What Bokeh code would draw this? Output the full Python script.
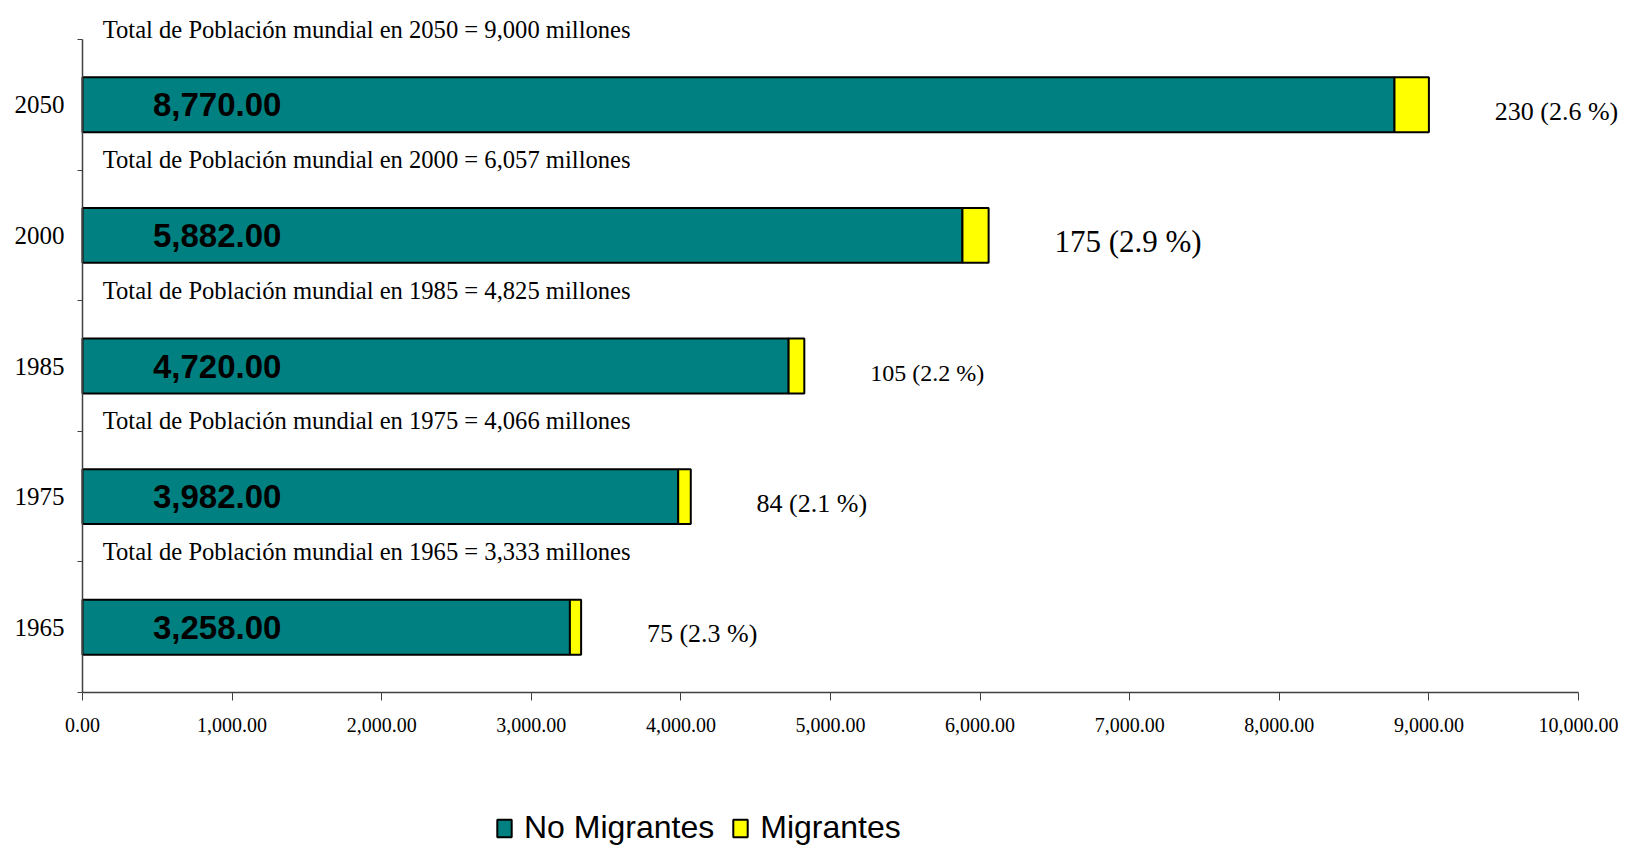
from bokeh.plotting import figure
from bokeh.models import (Range1d, FixedTicker, NumeralTickFormatter, ColumnDataSource,
                          Legend, LegendItem, LinearAxis)
from bokeh.core.properties import value
from bokeh.embed import file_html
from bokeh.resources import INLINE

# ---- data ----
years = ["1965", "1975", "1985", "2000", "2050"]
no_migrantes = [3258, 3982, 4720, 5882, 8770]
migrantes = [75, 84, 105, 175, 230]
x_ticks = [0, 1000, 2000, 3000, 4000, 5000, 6000, 7000, 8000, 9000, 10000]

# ---- styles / layout ----
right_label_sizes = ["26px", "26px", "24px", "31px", "26px"]
W, H = 1645, 846
X_MAX, Y_MAX = 10000, len(years)
PLOT_L, PLOT_R, PLOT_T, PLOT_B = 82, 1578, 39, 692   # pixel box of the axes

totals = [a + b for a, b in zip(no_migrantes, migrantes)]
pos = [i + 0.5 for i in range(len(years))]
pct_labels = [f"{m} ({m / t * 100:.1f} %)" for m, t in zip(migrantes, totals)]
titles = [f"Total de Población mundial en {y} = {t:,} millones" for y, t in zip(years, totals)]
bar_labels = [f"{v:,.2f}" for v in no_migrantes]

xs = (PLOT_R - PLOT_L) / X_MAX
ys = (PLOT_B - PLOT_T) / Y_MAX
x_range = Range1d(-PLOT_L / xs, X_MAX + (W - PLOT_R) / xs)
y_range = Range1d(-(H - PLOT_B) / ys, Y_MAX + PLOT_T / ys)

src = ColumnDataSource(dict(
    y=pos, nm=no_migrantes, tot=totals, mig=migrantes,
    pct=pct_labels, title=titles, blab=bar_labels,
    ty=[p + 0.58 for p in pos], tx=[135] * len(pos),
    ry=[p - 0.05 for p in pos], rx=[t + 440 for t in totals],
    bx=[900] * len(pos), rsize=right_label_sizes,
))

p = figure(width=W, height=H, x_range=x_range, y_range=y_range,
           x_axis_location=None, y_axis_location=None,
           output_backend="svg", toolbar_location=None, min_border=0)
p.outline_line_color = None
p.xgrid.visible = False
p.ygrid.visible = False
p.background_fill_color = "white"

r1 = p.hbar(y="y", left=0, right="nm", height=0.42, fill_color="#008080",
            line_color="black", line_width=2, source=src)
r2 = p.hbar(y="y", left="nm", right="tot", height=0.42, fill_color="#FFFF00",
            line_color="black", line_width=2, source=src)

p.text(x="bx", y="y", text="blab", source=src, text_align="center", text_baseline="middle",
       text_font=value("Liberation Sans"), text_font_style="bold",
       text_font_size="33px", text_color="black")

p.text(x="rx", y="ry", text="pct", source=src, text_align="left", text_baseline="middle",
       text_font=value("Liberation Serif"), text_font_size="rsize", text_color="black")

p.text(x="tx", y="ty", text="title", source=src, text_align="left", text_baseline="middle",
       text_font=value("Liberation Serif"), text_font_size="24.6px", text_color="black")

# x axis
xa = LinearAxis(fixed_location=0, bounds=(0, X_MAX))
xa.ticker = FixedTicker(ticks=x_ticks)
xa.formatter = NumeralTickFormatter(format="0,0.00")
xa.major_label_text_font = "Liberation Serif"
xa.major_label_text_font_size = "20px"
xa.major_label_text_color = "black"
xa.major_tick_out = 8
xa.major_tick_in = 0
xa.minor_tick_line_color = None
xa.axis_line_color = "#404040"
xa.axis_line_width = 1.5
xa.major_tick_line_color = "#404040"
xa.major_label_standoff = 17
p.add_layout(xa, "below")

# y axis
ya = LinearAxis(fixed_location=0, bounds=(0, Y_MAX))
ya.ticker = FixedTicker(ticks=pos, minor_ticks=[float(i) for i in range(len(years) + 1)])
ya.major_label_overrides = {pv: yr for pv, yr in zip(pos, years)}
ya.major_tick_line_color = None
ya.major_tick_out = 0
ya.major_tick_in = 0
ya.minor_tick_out = 5
ya.minor_tick_in = 0
ya.minor_tick_line_color = "#404040"
ya.axis_line_color = "#404040"
ya.axis_line_width = 1.5
ya.major_label_text_font = "Liberation Serif"
ya.major_label_text_font_size = "25px"
ya.major_label_text_color = "black"
ya.major_label_standoff = 13
p.add_layout(ya, "left")

legend = Legend(items=[LegendItem(label="No Migrantes", renderers=[r1]),
                       LegendItem(label="Migrantes", renderers=[r2])],
                orientation="horizontal", location=(495, 0), padding=0, margin=0,
                spacing=17, label_standoff=11, glyph_width=18, glyph_height=22,
                label_text_font="Liberation Sans", label_text_font_size="32px",
                label_text_color="black",
                border_line_color=None, background_fill_alpha=0)
p.add_layout(legend)

open("out.html", "w").write(file_html(p, INLINE))
